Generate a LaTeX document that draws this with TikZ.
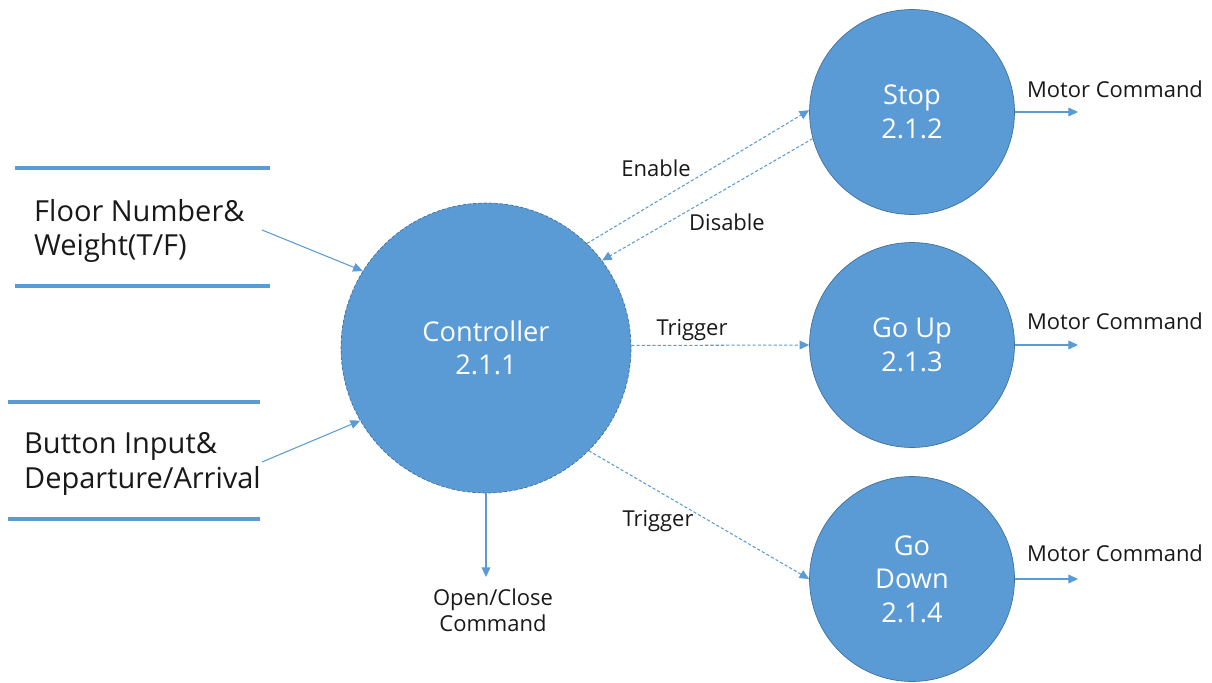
\documentclass[tikz,border=0pt]{standalone}
\usepackage{fontspec}
\setmainfont{Open Sans}
\usetikzlibrary{arrows.meta}
\definecolor{procblue}{HTML}{5B9BD5}
\definecolor{procedge}{HTML}{41719C}

\begin{document}
\begin{tikzpicture}[x=0.02cm,y=-0.02cm]
  \tikzset{proc circle/.style={draw=procedge,circle,fill=procblue,text=white,minimum size=#1,inner sep=0pt,align=center,font=\fontsize{15.5}{19}\selectfont},
    flow/.style={draw=procblue,line width=0.6pt,-{Triangle[length=5.5pt,width=5pt]}},
    dflow/.style={flow,dash pattern=on 1.8pt off 1.2pt},
    store/.style={draw=procblue,line width=2.2pt},
    lbl/.style={text=black!90,font=\fontsize{12.5}{15}\selectfont,align=center}}
  \useasboundingbox (0,0) rectangle (1212,682);

  \node [proc circle=5.8cm,dash pattern=on 2pt off 1pt] (ctrl) at (486,348) {Controller\\2.1.1};
  \node [proc circle=4.1cm] (stop) at (912,112) {Stop\\2.1.2};
  \node [proc circle=4.1cm] (up) at (912,345) {Go Up\\2.1.3};
  \node [proc circle=4.1cm] (down) at (912,579) {Go\\Down\\2.1.4};

  % data stores
  \draw[store] (15,168) -- (270,168) (15,286) -- (270,286);
  \draw[store] (8,402) -- (260,402) (8,519) -- (260,519);
  \node[lbl,align=left,anchor=west,font=\fontsize{16.5}{19.5}\selectfont] (fw) at (28,231) {Floor Number\&\\Weight(T/F)};
  \node[lbl,align=left,anchor=west,font=\fontsize{16.5}{19.5}\selectfont] (bd) at (18,464) {Button Input\&\\Departure/Arrival};

  \coordinate (fwout) at (262,230);
  \coordinate (bdout) at (262,462);
  \coordinate (doorcmd) at (486,577);
  \coordinate (m1) at (1078,112);
  \coordinate (m2) at (1078,345);
  \coordinate (m3) at (1078,579);

  \draw[flow] (fwout) -- (ctrl.148);
  \draw[flow] (bdout) -- (ctrl.210);
  \draw[flow] (ctrl.south) -- (doorcmd);
  \draw[dflow] (ctrl.46) -- (stop.179);
  \draw[dflow] (stop.195) -- (ctrl.37);
  \draw[dflow] (ctrl.1) -- (up.west);
  \draw[dflow] (ctrl.315) -- (down.west);
  \draw[flow] (stop) -- (m1);
  \draw[flow] (up) -- (m2);
  \draw[flow] (down) -- (m3);

  \node[lbl] (en) at (656,168) {Enable};
  \node[lbl] (dis) at (727,222) {Disable};
  \node[lbl] (tr1) at (692,330) {Trigger};
  \node[lbl] (tr2) at (658,521) {Trigger};
  \node[lbl] (door) at (493,610) {Open/Close\\Command};
  \node[lbl] (mc1) at (1115,89) {Motor Command};
  \node[lbl] (mc2) at (1115,321) {Motor Command};
  \node[lbl] (mc3) at (1115,553) {Motor Command};
\end{tikzpicture}
\end{document}
